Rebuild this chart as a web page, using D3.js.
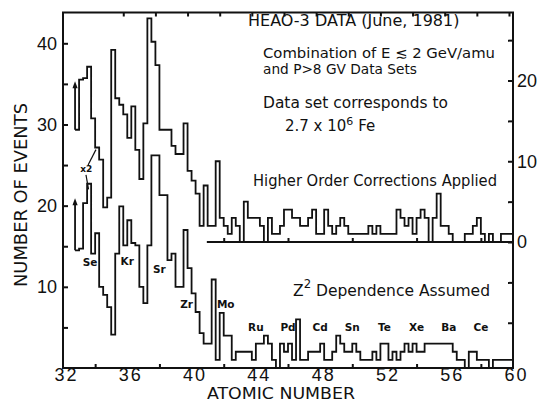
<!DOCTYPE html>
<html>
<head>
<meta charset="utf-8">
<script src="https://cdn.jsdelivr.net/npm/d3@7"></script>
<style>
  body { margin: 0; background: #fff; }
  svg { display: block; font-family: "DejaVu Sans", "Liberation Sans", sans-serif; }
  .axis text { font-size: 18px; fill: #111; }
  .axis line { stroke: #111; stroke-width: 2; }
  .axis .domain { display: none; }
  .note { font-size: 15px; fill: #111; }
  .el { font-size: 10.5px; font-weight: bold; fill: #111; }
</style>
</head>
<body>
<div id="chart"></div>
<script>
// histogram bins: 0.25 charge units wide, first bin starts at Z = 32.75
const binStart = 32.75;
const binWidth = 0.25;

// "Higher Order Corrections Applied" (read on the right hand scale)
const upperCounts = [
  13.9, 20.1, 20.3, 21.7, 15.3, 11.7, 10.2, 4.3, 5.5, 23.8,
  17.8, 17.0, 15.8, 12.9, 16.8, 11.4, 7.8, 14.7, 27.7, 24.8,
  21.9, 13.9, 13.9, 13.9, 11.9, 10.9, 10.9, 14.7, 8.8, 7.6,
  6, 2, 7, 2, 2, 10, 3, 2, 1, 3,
  2, 0, 5, 3, 3, 3, 2, 0, 3, 1,
  1, 2, 4, 4, 3, 3, 2, 2, 3, 4,
  1, 1, 4, 2, 1, 2, 3, 2, 1, 1,
  1, 1, 1, 2, 1, 2, 1, 1, 1, 1,
  4, 3, 2, 3, 1, 3, 4, 3, 0, 3,
  6, 2, 2, 1, 0, 0, 0, 1, 1, 2,
  3, 1, 0, 1, 0, 0, 1, 1, 1
];

// "Z^2 Dependence Assumed" (read on the left hand scale)
const lowerCounts = [
  14.5, 14.7, 20.3, 22.7, 14.1, 16.6, 10, 9, 7.5, 4.1,
  14.1, 19.9, 15.1, 18.2, 15.4, 15.1, 10, 8, 15.1, 26.2,
  26.2, 21.3, 21.3, 13.3, 14.1, 10, 10, 17, 12.3, 9.2,
  6.9, 4.3, 3, 3, 10.9, 1, 6.8, 4, 4, 1,
  2, 2, 2, 2, 1, 3, 3, 4, 3, 1,
  0, 3, 2, 3, 1, 6, 1, 1, 2, 2,
  2, 3, 1, 1, 2, 4, 3, 2, 2, 3,
  2, 1, 1, 1, 2, 1, 3, 3, 1, 2,
  1, 2, 3, 2, 3, 2, 2, 3, 3, 3,
  3, 3, 3, 3, 2, 1, 1, 0, 2, 2,
  1, 1, 1, 0, 1, 1, 1, 1, 1
];

// off-scale first bins (arrow tips)
const upperArrowTip = 19.9;
const lowerArrowTip = 20.9;

const elementNames = ["Se", "Kr", "Sr", "Zr", "Mo", "Ru", "Pd", "Cd", "Sn", "Te", "Xe", "Ba", "Ce"];
const elementZ = [34, 36, 38, 40, 42, 44, 46, 48, 50, 52, 54, 56, 58];

const xTickLabels = [32, 36, 40, 44, 48, 52, 56, 60];
const xMinorTicks = [34, 38, 42, 46, 50, 54, 58];
const topTicks = d3.range(35.75, 60, 2);
const leftTicks = [5, 10, 15, 20, 25, 30, 35, 40];
const leftTickLabels = [10, 20, 30, 40];
const rightTicks = [-10, -5, 0, 5, 10, 15, 20, 25];
const rightTickLabels = [0, 10, 20];

const W = 541, H = 410;
const svg = d3.select("#chart").append("svg").attr("width", W).attr("height", H);

const x = d3.scaleLinear().domain([32, 60]).range([63, 513]);
const yLeft = d3.scaleLinear().domain([0, 40]).range([368, 43.3]);
const yRight = d3.scaleLinear().domain([0, 20]).range([242, 80.5]);

// axes
svg.append("g").attr("class", "axis").attr("transform", "translate(63,0)")
  .call(d3.axisLeft(yLeft).tickValues(leftTicks).tickSize(-5).tickPadding(6)
    .tickFormat(d => leftTickLabels.includes(d) ? d : ""));

svg.append("g").attr("class", "axis").attr("transform", "translate(513,0)")
  .call(d3.axisRight(yRight).tickValues(rightTicks).tickSize(-5).tickPadding(4)
    .tickFormat(d => rightTickLabels.includes(d) ? d : ""));

svg.append("g").attr("class", "axis").attr("transform", "translate(0,368)")
  .call(d3.axisBottom(x).tickValues(xTickLabels).tickSize(0).tickPadding(0))
  .selectAll("text").attr("dx", 3).style("font-size", "18px").style("letter-spacing", "2px");

svg.append("g").attr("class", "axis").attr("transform", "translate(0,368)")
  .call(d3.axisBottom(x).tickValues(xMinorTicks).tickSize(-4).tickFormat(""));

svg.append("g").attr("class", "axis").attr("transform", "translate(0,12.5)")
  .call(d3.axisTop(x).tickValues(topTicks).tickSize(-4).tickFormat(""));

// frame
svg.append("rect")
  .attr("x", x(32)).attr("y", 12.5)
  .attr("width", x(60) - x(32)).attr("height", 368 - 12.5)
  .attr("fill", "none").attr("stroke", "#111").attr("stroke-width", 2);

// zero line of the upper histogram, with its ticks
svg.append("line")
  .attr("x1", x(40.95)).attr("x2", x(60))
  .attr("y1", yRight(0)).attr("y2", yRight(0))
  .attr("stroke", "#111").attr("stroke-width", 2);
svg.append("g").attr("class", "axis").attr("transform", `translate(0,${yRight(0)})`)
  .call(d3.axisBottom(x).tickValues(xMinorTicks.filter(d => d > 41)).tickSize(-4).tickFormat(""));

// histograms
function steps(counts) {
  const pts = counts.map((n, i) => ({ z: binStart + i * binWidth, n }));
  pts.push({ z: binStart + counts.length * binWidth, n: counts[counts.length - 1] });
  return pts;
}
const stepLine = yScale => d3.line().x(d => x(d.z)).y(d => yScale(d.n)).curve(d3.curveStepAfter);

svg.append("path").attr("d", stepLine(yRight)(steps(upperCounts)))
  .attr("fill", "none").attr("stroke", "#111").attr("stroke-width", 1.8);
svg.append("path").attr("d", stepLine(yLeft)(steps(lowerCounts)))
  .attr("fill", "none").attr("stroke", "#111").attr("stroke-width", 1.8);

function arrow(from, to, yScale) {
  const ax = x(binStart), y0 = yScale(from), y1 = yScale(to);
  svg.append("line").attr("x1", ax).attr("x2", ax).attr("y1", y0).attr("y2", y1 + 4)
    .attr("stroke", "#111").attr("stroke-width", 1.8);
  svg.append("path").attr("d", `M${ax - 2.6},${y1 + 7}L${ax},${y1}L${ax + 2.6},${y1 + 7}Z`)
    .attr("fill", "#111");
}
arrow(upperCounts[0], upperArrowTip, yRight);
arrow(lowerCounts[0], lowerArrowTip, yLeft);

// "x2" marker with its pointers
svg.append("text").attr("class", "el").attr("x", x(33.45)).attr("y", yLeft(24.2))
  .attr("text-anchor", "middle").style("font-size", "9px").text("x2");
svg.append("line").attr("x1", x(33.56)).attr("y1", yLeft(25.0)).attr("x2", x(34.05)).attr("y2", yLeft(26.9))
  .attr("stroke", "#111").attr("stroke-width", 1.2);
svg.append("line").attr("x1", x(33.43)).attr("y1", yLeft(23.8)).attr("x2", x(33.59)).attr("y2", yLeft(22.0))
  .attr("stroke", "#111").attr("stroke-width", 1.2);

// element labels
const elDx = { Se: -5, Zr: -5, Mo: 2 };
const elY = { Se: 266, Kr: 265, Sr: 272.5, Zr: 308, Mo: 307.5 };
svg.selectAll(".el-label").data(elementNames).enter().append("text")
  .attr("class", "el")
  .attr("text-anchor", "middle")
  .attr("x", (d, i) => x(elementZ[i]) + (elDx[d] || 0))
  .attr("y", d => elY[d] || 330.5)
  .text(d => d);

// text blocks
function note(str, x0, y0, size, len) {
  const t = svg.append("text").attr("class", "note").attr("x", x0).attr("y", y0)
    .style("font-size", size + "px").text(str);
  if (len) t.attr("textLength", len).attr("lengthAdjust", "spacingAndGlyphs");
  return t;
}
note("HEAO-3  DATA  (June, 1981)", 248, 26, 16);
note("Combination of E \u2272 2 GeV/amu", 263, 57.5, 14.5, 232);
note("and P>8 GV Data Sets", 263, 74, 14.5, 154);
note("Data set corresponds to", 263, 108, 15, 185);

const fe = svg.append("text").attr("class", "note").attr("x", 285).attr("y", 131).style("font-size", "15px");
fe.append("tspan").text("2.7 x 10");
fe.append("tspan").attr("dy", -6).style("font-size", "11px").text("6");
fe.append("tspan").attr("dy", 6).text(" Fe");

note("Higher Order Corrections Applied", 253, 186, 16, 244);

const z2 = svg.append("text").attr("class", "note").attr("x", 293).attr("y", 296).style("font-size", "16px")
  .attr("textLength", 197).attr("lengthAdjust", "spacingAndGlyphs");
z2.append("tspan").text("Z");
z2.append("tspan").attr("dy", -8).style("font-size", "12px").text("2");
z2.append("tspan").attr("dy", 8).text(" Dependence  Assumed");

note("ATOMIC NUMBER", 207, 399, 16, 148);

svg.append("text").attr("class", "note")
  .attr("transform", "translate(27,287) rotate(-90)")
  .style("font-size", "17px")
  .attr("textLength", 184).attr("lengthAdjust", "spacingAndGlyphs")
  .text("NUMBER OF EVENTS");
</script>
</body>
</html>
